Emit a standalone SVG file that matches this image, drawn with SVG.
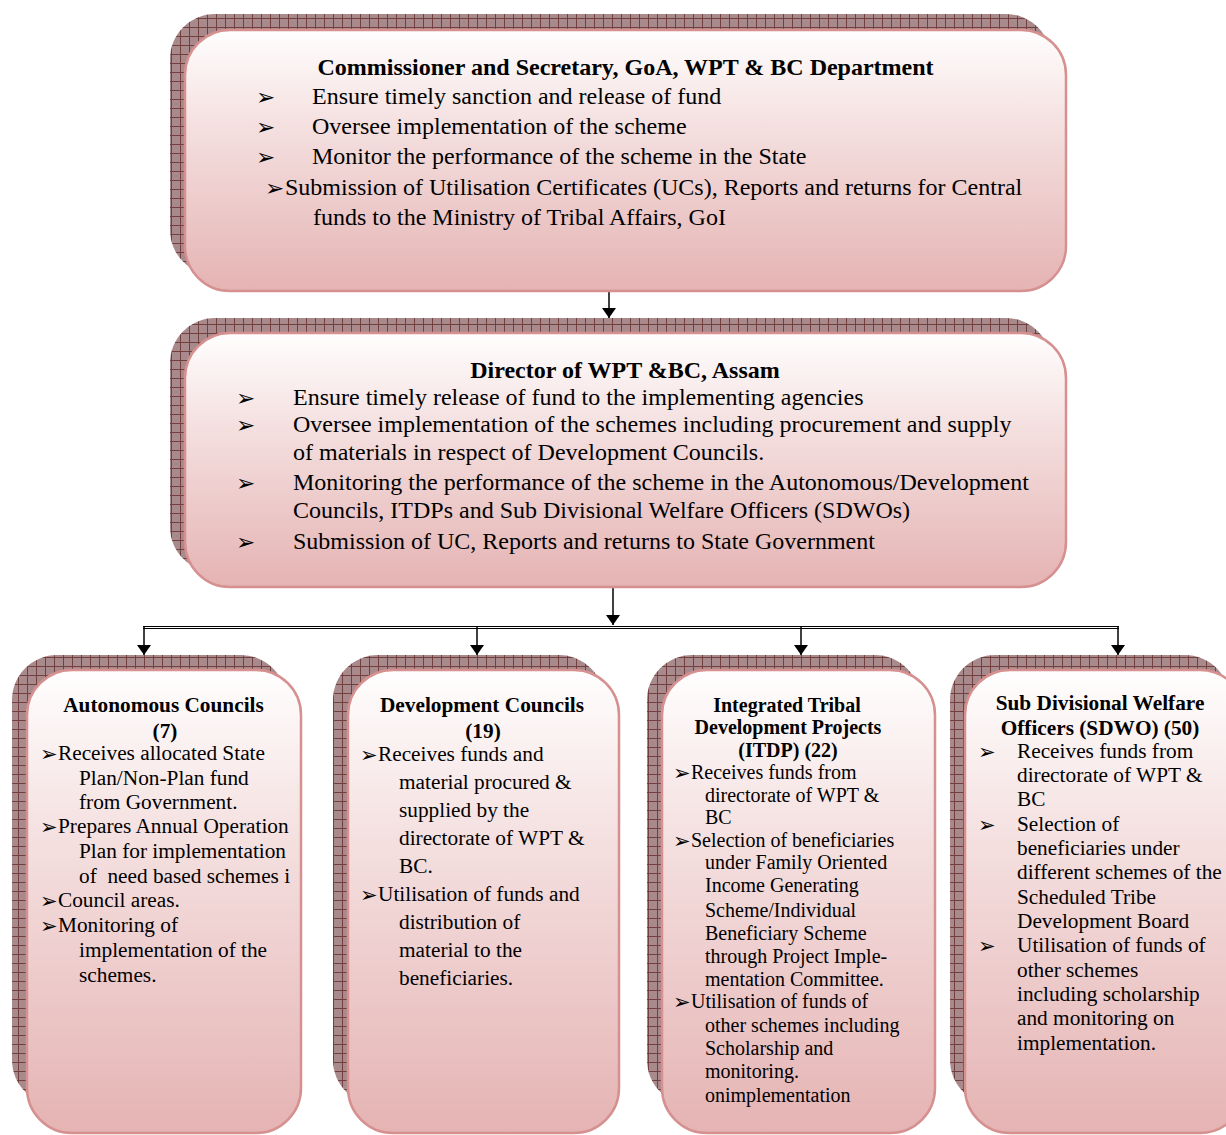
<svg xmlns="http://www.w3.org/2000/svg" width="1226" height="1135" viewBox="0 0 1226 1135">
<defs>
<pattern id="hatch" width="9" height="9" patternUnits="userSpaceOnUse">
<rect width="9" height="9" fill="#b39698"/>
<rect x="1" y="1" width="8" height="8" fill="#a98a8c"/>
<path d="M0 0.5H9M0.5 0V9" stroke="#74403f" stroke-width="1"/>
</pattern>
<linearGradient id="boxfill" x1="0" y1="0" x2="0" y2="1">
<stop offset="0" stop-color="#fffefe"/>
<stop offset="0.35" stop-color="#f5e1e1"/>
<stop offset="1" stop-color="#e5b3b3"/>
</linearGradient>
<marker id="arr" viewBox="0 0 10 14" refX="10" refY="7" markerWidth="10" markerHeight="14" markerUnits="userSpaceOnUse" orient="auto">
<path d="M0 0L10 7L0 14Z" fill="#000"/>
</marker>
</defs>
<style>
.shadow{fill:url(#hatch);}
.box{fill:url(#boxfill);stroke:#d69090;stroke-width:2.5;}
text{font-family:"Liberation Serif","Times New Roman",serif;fill:#000;}
.t24{font-size:24px;}
.b24{font-size:24px;font-weight:bold;text-anchor:middle;}
.t21{font-size:21.3px;}
.b21{font-size:21.3px;font-weight:bold;text-anchor:middle;}
.t20{font-size:20px;}
.b20{font-size:20px;font-weight:bold;text-anchor:middle;}
.bl{font-family:"DejaVu Sans",sans-serif;font-size:23px;}
.bls{font-family:"DejaVu Sans",sans-serif;font-size:21px;}
.ln{stroke:#000;stroke-width:1.5;fill:none;}
</style>

<g id="connectors">
<line class="ln" x1="609" y1="291" x2="609" y2="318" marker-end="url(#arr)"/>
<line class="ln" x1="613" y1="587" x2="613" y2="625" marker-end="url(#arr)"/>
<line x1="143" y1="626.5" x2="1119" y2="626.5" stroke="#000" stroke-width="1"/>
<line x1="143" y1="628.5" x2="1119" y2="628.5" stroke="#000" stroke-width="1"/>
<line class="ln" x1="144" y1="627" x2="144" y2="655" marker-end="url(#arr)"/>
<line class="ln" x1="477" y1="627" x2="477" y2="655" marker-end="url(#arr)"/>
<line class="ln" x1="801" y1="627" x2="801" y2="655" marker-end="url(#arr)"/>
<line class="ln" x1="1118" y1="627" x2="1118" y2="655" marker-end="url(#arr)"/>
</g>

<g id="commissioner">
<rect class="shadow" x="170" y="14" width="881" height="261" rx="45"/>
<rect class="box" x="185" y="30" width="881" height="261" rx="45"/>
<text class="b24" x="625.5" y="75">Commissioner and Secretary, GoA, WPT &amp; BC Department</text>
<text class="bl" x="256" y="105">➢</text>
<text class="t24" x="312" y="104">Ensure timely sanction and release of fund</text>
<text class="bl" x="256" y="135">➢</text>
<text class="t24" x="312" y="134">Oversee implementation of the scheme</text>
<text class="bl" x="256" y="165">➢</text>
<text class="t24" x="312" y="164">Monitor the performance of the scheme in the State</text>
<text class="bl" x="265" y="196">➢</text>
<text class="t24" x="285" y="195">Submission of Utilisation Certificates (UCs), Reports and returns for Central</text>
<text class="t24" x="313" y="225">funds to the Ministry of Tribal Affairs, GoI</text>
</g>

<g id="director">
<rect class="shadow" x="170" y="318" width="881" height="254" rx="45"/>
<rect class="box" x="185" y="333" width="881" height="254" rx="45"/>
<text class="b24" x="625" y="378">Director of WPT &amp;BC, Assam</text>
<text class="bl" x="236" y="406">➢</text>
<text class="t24" x="293" y="405">Ensure timely release of fund to the implementing agencies</text>
<text class="bl" x="236" y="433">➢</text>
<text class="t24" x="293" y="432">Oversee implementation of the schemes including procurement and supply</text>
<text class="t24" x="293" y="460">of materials in respect of Development Councils.</text>
<text class="bl" x="236" y="491">➢</text>
<text class="t24" x="293" y="490">Monitoring the performance of the scheme in the Autonomous/Development</text>
<text class="t24" x="293" y="518">Councils, ITDPs and Sub Divisional Welfare Officers (SDWOs)</text>
<text class="bl" x="236" y="550">➢</text>
<text class="t24" x="293" y="549">Submission of UC, Reports and returns to State Government</text>
</g>

<g id="autonomous-councils">
<rect class="shadow" x="12" y="655" width="274" height="450" rx="45"/>
<rect class="box" x="27" y="670" width="274" height="463" rx="45"/>
<text class="b21" x="163.5" y="712">Autonomous Councils</text>
<text class="b21" x="165" y="738">(7)</text>
<text class="bls" x="40" y="761">➢</text>
<text class="t21" x="58" y="760">Receives allocated State</text>
<text class="t21" x="79" y="785">Plan/Non-Plan fund</text>
<text class="t21" x="79" y="809">from Government.</text>
<text class="bls" x="40" y="834">➢</text>
<text class="t21" x="58" y="833">Prepares Annual Operation</text>
<text class="t21" x="79" y="858">Plan for implementation</text>
<text class="t21" x="79" y="883" style="white-space:pre">of  need based schemes i</text>
<text class="bls" x="40" y="908">➢</text>
<text class="t21" x="58" y="907">Council areas.</text>
<text class="bls" x="40" y="933">➢</text>
<text class="t21" x="58" y="932">Monitoring of</text>
<text class="t21" x="79" y="957">implementation of the</text>
<text class="t21" x="79" y="982">schemes.</text>
</g>

<g id="development-councils">
<rect class="shadow" x="333" y="655" width="271" height="450" rx="45"/>
<rect class="box" x="348" y="670" width="271" height="463" rx="45"/>
<text class="b21" x="482" y="712">Development Councils</text>
<text class="b21" x="483" y="738">(19)</text>
<text class="bls" x="360" y="762">➢</text>
<text class="t21" x="378" y="761">Receives funds and</text>
<text class="t21" x="399" y="789">material procured &amp;</text>
<text class="t21" x="399" y="817">supplied by the</text>
<text class="t21" x="399" y="845">directorate of WPT &amp;</text>
<text class="t21" x="399" y="873">BC.</text>
<text class="bls" x="360" y="902">➢</text>
<text class="t21" x="378" y="901">Utilisation of funds and</text>
<text class="t21" x="399" y="929">distribution of</text>
<text class="t21" x="399" y="957">material to the</text>
<text class="t21" x="399" y="985">beneficiaries.</text>
</g>

<g id="itdp">
<rect class="shadow" x="647" y="655" width="273" height="450" rx="45"/>
<rect class="box" x="662" y="670" width="273" height="463" rx="45"/>
<text class="b20" x="787" y="712">Integrated Tribal</text>
<text class="b20" x="788" y="734">Development Projects</text>
<text class="b20" x="788" y="757">(ITDP) (22)</text>
<text class="bls" x="673" y="780">➢</text>
<text class="t20" x="691" y="779">Receives funds from</text>
<text class="t20" x="705" y="802">directorate of WPT &amp;</text>
<text class="t20" x="705" y="824">BC</text>
<text class="bls" x="673" y="848">➢</text>
<text class="t20" x="691" y="847">Selection of beneficiaries</text>
<text class="t20" x="705" y="869">under Family Oriented</text>
<text class="t20" x="705" y="892">Income Generating</text>
<text class="t20" x="705" y="917">Scheme/Individual</text>
<text class="t20" x="705" y="940">Beneficiary Scheme</text>
<text class="t20" x="705" y="963">through Project Imple-</text>
<text class="t20" x="705" y="986">mentation Committee.</text>
<text class="bls" x="673" y="1009">➢</text>
<text class="t20" x="691" y="1008">Utilisation of funds of</text>
<text class="t20" x="705" y="1032">other schemes including</text>
<text class="t20" x="705" y="1055">Scholarship and</text>
<text class="t20" x="705" y="1078">monitoring.</text>
<text class="t20" x="705" y="1102">onimplementation</text>
</g>

<g id="sdwo">
<rect class="shadow" x="950" y="655" width="280" height="450" rx="45"/>
<rect class="box" x="965" y="670" width="280" height="463" rx="45"/>
<text class="b21" x="1100" y="710">Sub Divisional Welfare</text>
<text class="b21" x="1100" y="735">Officers (SDWO) (50)</text>
<text class="bls" x="978" y="759">➢</text>
<text class="t21" x="1017" y="758">Receives funds from</text>
<text class="t21" x="1017" y="782">directorate of WPT &amp;</text>
<text class="t21" x="1017" y="806">BC</text>
<text class="bls" x="978" y="832">➢</text>
<text class="t21" x="1017" y="831">Selection of</text>
<text class="t21" x="1017" y="855">beneficiaries under</text>
<text class="t21" x="1017" y="879">different schemes of the</text>
<text class="t21" x="1017" y="904">Scheduled Tribe</text>
<text class="t21" x="1017" y="928">Development Board</text>
<text class="bls" x="978" y="953">➢</text>
<text class="t21" x="1017" y="952">Utilisation of funds of</text>
<text class="t21" x="1017" y="977">other schemes</text>
<text class="t21" x="1017" y="1001">including scholarship</text>
<text class="t21" x="1017" y="1025">and monitoring on</text>
<text class="t21" x="1017" y="1050">implementation.</text>
</g>
</svg>
